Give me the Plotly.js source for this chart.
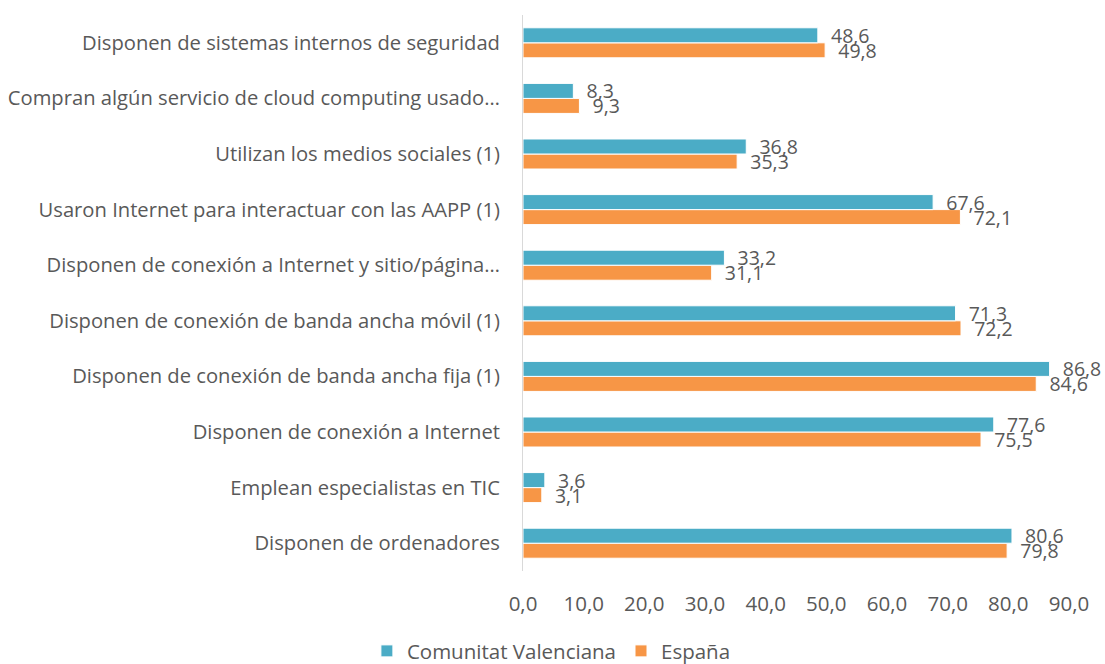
<!DOCTYPE html>
<html>
<head>
<meta charset="utf-8">
<script src="https://cdn.plot.ly/plotly-3.0.1.min.js"></script>
<style>html,body{margin:0;padding:0;background:#fff}#chart{width:1105px;height:664px}</style>
</head>
<body>
<div id="chart"></div>
<script>
const categories = [
  "Disponen de ordenadores",
  "Emplean especialistas en TIC",
  "Disponen de conexión a Internet",
  "Disponen de conexión de banda ancha fija (1)",
  "Disponen de conexión de banda ancha móvil (1)",
  "Disponen de conexión a Internet y sitio/página…",
  "Usaron Internet para interactuar con las AAPP (1)",
  "Utilizan los medios sociales (1)",
  "Compran algún servicio de cloud computing usado…",
  "Disponen de sistemas internos de seguridad"
];
const valenciana = [80.6, 3.6, 77.6, 86.8, 71.3, 33.2, 67.6, 36.8, 8.3, 48.6];
const espana = [79.8, 3.1, 75.5, 84.6, 72.2, 31.1, 72.1, 35.3, 9.3, 49.8];
const seriesNames = ["Comunitat Valenciana", "España"];
const tickVals = [0, 10, 20, 30, 40, 50, 60, 70, 80, 90];

const fmt = v => "\u00a0\u00a0" + v.toFixed(1).replace(".", ",");
const FONT = "'Open Sans', 'Liberation Sans', sans-serif";
const TXT = "#595959";

const traces = [
  {
    type: "bar", orientation: "h", name: seriesNames[1],
    y: categories, x: espana,
    text: espana.map(fmt), textposition: "outside", cliponaxis: false,
    constraintext: "none",
    textfont: {family: FONT, size: 19.5, color: TXT},
    marker: {color: "#F79646", line: {color: "#ffffff", width: 1}},
    hoverinfo: "x+y"
  },
  {
    type: "bar", orientation: "h", name: seriesNames[0],
    y: categories, x: valenciana,
    text: valenciana.map(fmt), textposition: "outside", cliponaxis: false,
    constraintext: "none",
    textfont: {family: FONT, size: 19.5, color: TXT},
    marker: {color: "#4BACC6", line: {color: "#ffffff", width: 1}},
    hoverinfo: "x+y"
  }
];

const layout = {
  width: 1105, height: 664,
  margin: {l: 523, r: 36, t: 15, b: 93, pad: 0, autoexpand: false},
  paper_bgcolor: "#ffffff", plot_bgcolor: "#ffffff",
  separators: ",.",
  barmode: "group", bargap: 0.46, bargroupgap: 0,
  font: {family: FONT, size: 20, color: TXT},
  xaxis: {
    range: [0, 90], tickvals: tickVals, tickformat: ".1f",
    showgrid: false, zeroline: false, showline: false,
    ticks: "", ticklabelstandoff: 18,
    tickfont: {family: FONT, size: 20.5, color: TXT}
  },
  yaxis: {
    type: "category", showgrid: false, zeroline: false,
    showline: true, linecolor: "#d9d9d9", linewidth: 1,
    ticks: "", ticklabelstandoff: 18,
    tickfont: {family: FONT, size: 20.2, color: TXT}
  },
  showlegend: true,
  legend: {
    orientation: "h", traceorder: "reversed",
    x: 0.052, xanchor: "center", xref: "paper",
    y: -0.144, yanchor: "middle",
    font: {family: FONT, size: 20.5, color: TXT},
    itemwidth: 30
  }
};

Plotly.newPlot("chart", traces, layout, {displayModeBar: false, responsive: false});
</script>
</body>
</html>
